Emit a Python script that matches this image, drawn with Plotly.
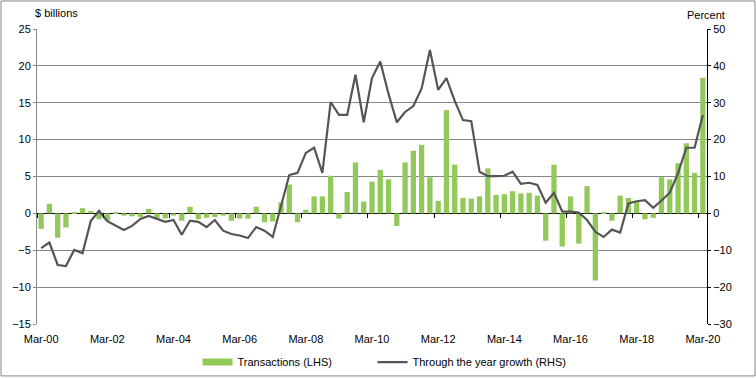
import plotly.graph_objects as go

months = ["Mar", "Jun", "Sep", "Dec"]
quarters = []
for yr in range(2000, 2021):
    for m in months:
        quarters.append(f"{m}-{yr % 100:02d}")
quarters = quarters[:81]  # Mar-00 .. Mar-20

transactions = [
    -2.1, 1.3, -3.3, -1.9, 0.2, 0.7, 0.3, -0.8, -1.0, 0.2,
    -0.3, -0.4, -0.5, 0.6, -0.7, -0.7, -0.3, -1.0, 0.9, -0.8,
    -0.6, -0.5, -0.3, -1.0, -0.7, -0.7, 0.9, -1.2, -1.1, 1.5,
    3.9, -1.2, 0.5, 2.3, 2.3, 5.1, -0.7, 2.9, 6.9, 1.6,
    4.3, 5.9, 4.6, -1.7, 6.9, 8.5, 9.3, 4.9, 1.7, 14.0,
    6.6, 2.1, 2.0, 2.3, 6.1, 2.5, 2.6, 3.0, 2.7, 2.8,
    2.4, -3.7, 6.6, -4.5, 2.3, -4.1, 3.7, -9.1, 0.2, -1.0,
    2.4, 2.1, 1.7, -0.8, -0.6, 4.9, 4.6, 6.8, 9.5, 5.5,
    18.4,
]

growth = [
    -9.4, -7.9, -14.0, -14.3, -9.9, -10.8, -2.1, 0.7, -2.1, -3.2,
    -4.5, -3.4, -1.5, -0.7, -1.5, -2.3, -1.8, -5.8, -2.0, -2.3,
    -3.7, -1.8, -4.7, -5.6, -6.0, -6.7, -3.7, -4.7, -6.4, 2.0,
    10.4, 11.0, 16.4, 17.8, 11.0, 30.2, 26.7, 26.7, 37.6, 24.7,
    36.7, 41.2, 32.4, 24.7, 27.5, 29.1, 33.9, 44.3, 33.5, 36.7,
    30.5, 25.3, 25.0, 11.3, 10.1, 10.1, 10.2, 11.3, 8.0, 8.3,
    7.7, 2.9, 5.6, 0.5, 0.5, 0.2, -1.8, -5.0, -6.4, -4.4,
    -5.2, 2.7, 3.3, 3.6, 1.5, 3.5, 5.6, 10.9, 17.8, 17.8,
    26.7,
]

tick_labels = quarters[::8]
lhs_ticks = [-15, -10, -5, 0, 5, 10, 15, 20, 25]
rhs_ticks = [-30, -20, -10, 0, 10, 20, 30, 40, 50]

GREEN = "#92C95A"
LINE = "#555555"
GRID = "#868686"
FONT = "Liberation Sans, Arial, sans-serif"

fig = go.Figure()
fig.add_trace(go.Bar(
    x=quarters, y=transactions, name="Transactions (LHS)",
    marker=dict(color=GREEN, line=dict(width=0)),
    xaxis="x", yaxis="y", showlegend=False,
))
# legend entry for bars drawn as a wide swatch
fig.add_trace(go.Scatter(
    x=[None], y=[None], name="Transactions (LHS)", mode="lines",
    line=dict(color=GREEN, width=7), xaxis="x", yaxis="y",
    legend="legend",
))
fig.add_trace(go.Scatter(
    x=quarters, y=growth, name="Through the year growth (RHS)",
    mode="lines", line=dict(color=LINE, width=2.2),
    xaxis="x", yaxis="y2", legend="legend2",
))
# invisible trace carrying the tick-mark axis at zero
fig.add_trace(go.Scatter(
    x=quarters, y=[0] * len(quarters), mode="lines",
    line=dict(width=0), showlegend=False, hoverinfo="skip",
    xaxis="x2", yaxis="y", opacity=0,
))

legend_common = dict(
    orientation="h", xanchor="left", yref="container", y=0.042,
    yanchor="middle", font=dict(size=11), bgcolor="rgba(0,0,0,0)",
)

fig.update_layout(
    width=756, height=378,
    margin=dict(l=37, r=49, t=29, b=54, autoexpand=False),
    paper_bgcolor="white", plot_bgcolor="white",
    font=dict(family=FONT, size=11, color="#000000"),
    bargap=0.36,
    showlegend=True,
    legend=dict(x=0.2396, **legend_common),
    legend2=dict(x=0.5008, **legend_common),
    xaxis=dict(
        type="category", categoryorder="array", categoryarray=quarters,
        tickmode="array", tickvals=tick_labels, ticktext=tick_labels,
        ticks="outside", ticklen=5, tickcolor="rgba(0,0,0,0)",
        showgrid=False, showline=False, zeroline=False, automargin=False,
        range=[-0.5, 80.5], tickfont=dict(size=11),
    ),
    xaxis2=dict(
        type="category", categoryorder="array", categoryarray=quarters,
        overlaying="x", anchor="free", position=0.375, side="bottom",
        tickmode="array", tickvals=tick_labels, tickson="boundaries",
        ticks="outside", ticklen=4, tickcolor="#000000", tickwidth=1,
        showticklabels=False, showgrid=False, showline=False,
        zeroline=False, range=[-0.5, 80.5], automargin=False,
    ),
    yaxis=dict(
        range=[-15, 25], tickvals=lhs_ticks, ticks="outside", ticklen=3,
        tickcolor=GRID, showline=True, linecolor=GRID, linewidth=1,
        showgrid=True, gridcolor=GRID, gridwidth=1, automargin=False,
        zeroline=True, zerolinecolor="#000000", zerolinewidth=1.3,
        tickfont=dict(size=11),
    ),
    yaxis2=dict(
        range=[-30, 50], tickvals=rhs_ticks, overlaying="y", side="right",
        ticks="outside", ticklen=3, tickcolor="#000000", automargin=False,
        showline=True, linecolor="#000000", linewidth=1,
        showgrid=False, zeroline=False, tickfont=dict(size=11),
    ),
    annotations=[
        dict(text="$ billions", xref="paper", yref="paper", x=-0.006,
             y=1.054, xanchor="left", yanchor="middle", showarrow=False,
             font=dict(size=11)),
        dict(text="Percent", xref="paper", yref="paper", x=0.9985,
             y=1.047, xanchor="center", yanchor="middle", showarrow=False,
             font=dict(size=11)),
    ],
    shapes=[
        dict(type="rect", xref="paper", yref="paper", x0=-0.0537, x1=1.0716,
             y0=-0.176, y1=1.095, line=dict(color="#868686", width=1)),
    ],
)

fig.write_html("out.html", config={"displayModeBar": False},
               post_script="document.body.style.margin='0';")
